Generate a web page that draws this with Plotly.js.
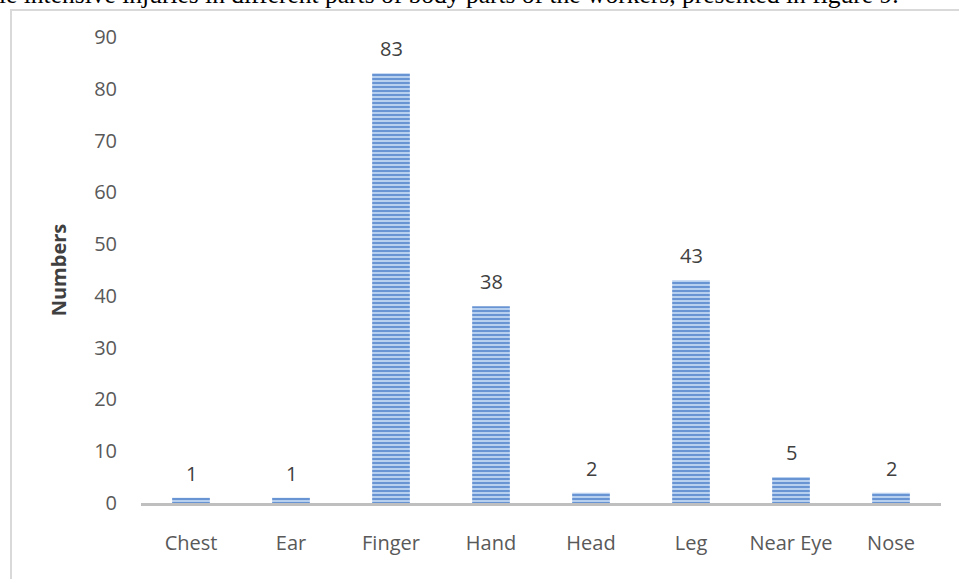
<!DOCTYPE html>
<html>
<head>
<meta charset="utf-8">
<script src="https://cdn.plot.ly/plotly-3.0.1.min.js"></script>
<style>html,body{margin:0;padding:0;background:#fff;}#chart{width:959px;height:579px;}</style>
</head>
<body>
<div id="chart"></div>
<script>
const categories = ["Chest", "Ear", "Finger", "Hand", "Head", "Leg", "Near Eye", "Nose"];
const injuries = [1, 1, 83, 38, 2, 43, 5, 2];
const yTicks = [0, 10, 20, 30, 40, 50, 60, 70, 80, 90];
const yTitle = "Numbers";
const captionText = "le intensive injuries in different parts of body parts of the workers, presented in figure 9.";

const W = 959, H = 579;
const L = 141, R = 18, T = 37, B = 76;
const pw = W - L - R, ph = H - T - B;
const px = x => (x - L) / pw;
const py = y => (H - B - y) / ph;

const font = "Open Sans, Noto Sans, sans-serif";

const trace = {
  type: "bar",
  x: categories,
  y: injuries,
  marker: {
    color: "#a8c4ea",
    line: {width: 0},
    pattern: {shape: "-", fgcolor: "#5f8dd0", bgcolor: "#b8d0f0", size: 4, solidity: 0.45}
  },
  hoverinfo: "x+y"
};

const labelAnns = categories.map((c, i) => ({
  x: c, y: injuries[i], xref: "x", yref: "y",
  text: String(injuries[i]), showarrow: false,
  yanchor: "bottom", yshift: 9,
  font: {family: font, size: 20, color: "#404040"}
}));

const layout = {
  width: W, height: H,
  margin: {l: L, r: R, t: T, b: B, pad: 0},
  paper_bgcolor: "#ffffff", plot_bgcolor: "#ffffff",
  showlegend: false,
  bargap: 0.623,
  xaxis: {
    type: "category",
    showgrid: false, zeroline: false,
    showline: true, linecolor: "#bfbfbf", linewidth: 2.5,
    ticks: "", ticklabelstandoff: 20,
    tickfont: {family: font, size: 20, color: "#595959"},
    automargin: false,
    fixedrange: true
  },
  yaxis: {
    range: [0, 90],
    tickvals: yTicks,
    showgrid: false, zeroline: false, showline: false,
    ticks: "", ticklabelstandoff: 23,
    tickfont: {family: font, size: 20, color: "#595959"},
    title: {text: yTitle, font: {family: font, size: 20, color: "#404040", weight: "bold"}, standoff: 22},
    automargin: false,
    fixedrange: true
  },
  annotations: labelAnns.concat([{
    xref: "paper", yref: "paper",
    x: px(-3), y: py(4), xanchor: "left", yanchor: "bottom",
    yshift: -7,
    text: captionText, showarrow: false,
    font: {family: "Liberation Serif, Times New Roman, serif", size: 25.5, color: "#000000"}
  }]),
  shapes: [
    {type: "line", xref: "paper", yref: "paper", x0: px(11), x1: px(11), y0: py(10), y1: py(582), line: {color: "#d9d9d9", width: 2}},
    {type: "line", xref: "paper", yref: "paper", x0: px(10), x1: px(962), y0: py(10), y1: py(10), line: {color: "#d9d9d9", width: 2}}
  ]
};

Plotly.newPlot("chart", [trace], layout, {displayModeBar: false, staticPlot: true});
</script>
</body>
</html>
